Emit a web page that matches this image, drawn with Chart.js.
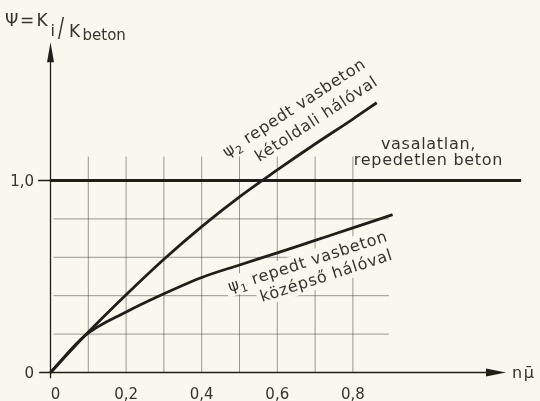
<!DOCTYPE html>
<html>
<head>
<meta charset="utf-8">
<script src="https://cdn.jsdelivr.net/npm/chart.js@4.4.0/dist/chart.umd.min.js"></script>
<style>
  html, body { margin: 0; padding: 0; background: #f9f8ef; }
  canvas { display: block; }
</style>
</head>
<body>
<canvas id="chart" width="540" height="401"></canvas>
<script>
// ψ = K_i / K_beton plotted against nμ̄
const xTicks = [0, 0.2, 0.4, 0.6, 0.8];
const xTickLabels = ["0", "0,2", "0,4", "0,6", "0,8"];
const yTicks = [0, 1.0];
const yTickLabels = ["0", "1,0"];
const gridX = [0.1, 0.2, 0.3, 0.4, 0.5, 0.6, 0.7, 0.8];
const gridY = [0.2, 0.4, 0.6, 0.8];

// unreinforced, uncracked concrete
const plainX = [0, 1.245];
const plainY = [1.0, 1.0];

// ψ2: cracked reinforced concrete, mesh on both faces
const psi2X = [0, 0.09, 0.2, 0.3, 0.4, 0.5, 0.6, 0.7, 0.8, 0.863];
const psi2Y = [0, 0.19, 0.405, 0.59, 0.76, 0.915, 1.055, 1.19, 1.32, 1.405];

// ψ1: cracked reinforced concrete, mesh in the middle
const psi1X = [0, 0.09, 0.2, 0.3, 0.4, 0.5, 0.6, 0.7, 0.8, 0.905];
const psi1Y = [0, 0.19, 0.315, 0.41, 0.495, 0.56, 0.623, 0.688, 0.753, 0.822];

const INK = "#1e1e1c";
const TEXT = "#333331";
const PAPER = "#f9f8ef";
const FONT = '"DejaVu Sans", sans-serif';

const gridTop = 1.125;
const gridRight = 0.895;

const labelPsi2 = {
  angle: -33,
  lines: [
    { at: [0.467, 1.12], sym: "ψ", sub: "2", text: " repedt vasbeton" },
    { at: [0.552, 1.096], text: "kétoldali hálóval" },
  ],
};
const labelPsi1 = {
  angle: -18,
  lines: [
    { at: [0.475, 0.419], sym: "ψ", sub: "1", text: " repedt vasbeton" },
    { at: [0.5595, 0.367], text: "középső hálóval" },
  ],
};

const toPoints = (xs, ys) => xs.map((x, i) => ({ x, y: ys[i] }));

// draws (or just measures) one line of a slanted curve label
function labelLine(ctx, line, draw) {
  ctx.letterSpacing = "0.7px";
  ctx.font = `16px ${FONT}`;
  let w = 0;
  if (line.sym) {
    if (draw) ctx.fillText(line.sym, 0, 0);
    w += ctx.measureText(line.sym).width;
    ctx.font = `11px ${FONT}`;
    if (draw) ctx.fillText(line.sub, w, 4);
    w += ctx.measureText(line.sub).width;
    ctx.font = `16px ${FONT}`;
  }
  if (draw) ctx.fillText(line.text, w, 0);
  w += ctx.measureText(line.text).width;
  return w;
}

function eachLabelLine(chart, fn) {
  const { ctx, scales: { x, y } } = chart;
  [labelPsi1, labelPsi2].forEach((lbl) => {
    lbl.lines.forEach((line) => {
      ctx.save();
      ctx.translate(x.getPixelForValue(line.at[0]), y.getPixelForValue(line.at[1]));
      ctx.rotate((lbl.angle * Math.PI) / 180);
      fn(ctx, line);
      ctx.restore();
    });
  });
}

const drawingPlugin = {
  id: "drawing",
  beforeDraw(chart) {
    const { ctx, width, height } = chart;
    ctx.save();
    ctx.fillStyle = PAPER;
    ctx.fillRect(0, 0, width, height);
    ctx.restore();
  },
  beforeDatasetsDraw(chart) {
    const { ctx, scales: { x, y } } = chart;
    const px = (v) => x.getPixelForValue(v);
    const py = (v) => y.getPixelForValue(v);
    ctx.save();

    // grid
    ctx.strokeStyle = "rgba(70,70,60,0.6)";
    ctx.lineWidth = 0.9;
    ctx.beginPath();
    gridX.forEach((v) => {
      ctx.moveTo(px(v), py(0));
      ctx.lineTo(px(v), py(gridTop));
    });
    gridY.forEach((v) => {
      ctx.moveTo(px(0.008), py(v));
      ctx.lineTo(px(gridRight), py(v));
    });
    ctx.stroke();

    // keep the grid out from under the curve labels
    eachLabelLine(chart, (c, line) => {
      const w = labelLine(c, line, false);
      c.fillStyle = PAPER;
      c.fillRect(-3, -15, w + 6, 20);
    });

    // axes
    ctx.strokeStyle = INK;
    ctx.fillStyle = INK;
    ctx.lineWidth = 1.3;
    ctx.beginPath();
    ctx.moveTo(px(-0.03), py(0));
    ctx.lineTo(px(1.16), py(0));
    ctx.moveTo(px(0), py(-0.03));
    ctx.lineTo(px(0), py(1.67));
    // tick at 1,0
    ctx.moveTo(px(-0.033), py(1));
    ctx.lineTo(px(0), py(1));
    ctx.stroke();

    // arrow heads
    const xTip = px(1.205), yTip = py(1.72);
    ctx.beginPath();
    ctx.moveTo(xTip, py(0));
    ctx.lineTo(xTip - 20, py(0) - 4);
    ctx.lineTo(xTip - 20, py(0) + 4);
    ctx.closePath();
    ctx.fill();
    ctx.beginPath();
    ctx.moveTo(px(0), yTip);
    ctx.lineTo(px(0) - 3.5, yTip + 20);
    ctx.lineTo(px(0) + 3.5, yTip + 20);
    ctx.closePath();
    ctx.fill();
    ctx.restore();
  },
  afterDatasetsDraw(chart) {
    const { ctx, scales: { x, y } } = chart;
    const px = (v) => x.getPixelForValue(v);
    const py = (v) => y.getPixelForValue(v);
    ctx.save();
    ctx.fillStyle = TEXT;
    ctx.textBaseline = "alphabetic";

    // tick labels
    ctx.font = `15px ${FONT}`;
    ctx.textAlign = "center";
    xTicks.forEach((v, i) => {
      ctx.fillText(xTickLabels[i], px(v) + (v === 0 ? 5 : 0), 399);
    });
    ctx.textAlign = "right";
    yTicks.forEach((v, i) => {
      ctx.fillText(yTickLabels[i], 34, py(v) + 5.5);
    });

    // x axis name
    ctx.textAlign = "left";
    ctx.font = `16px ${FONT}`;
    ctx.letterSpacing = "1.5px";
    ctx.fillText("nμ̄", 512, py(0) + 5);
    ctx.letterSpacing = "0px";

    // y axis name: Ψ = K_i / K_beton
    ctx.font = `17px ${FONT}`;
    ctx.fillText("Ψ", 5, 26);
    ctx.fillText("=", 20, 26);
    ctx.fillText("K", 36.5, 26);
    ctx.font = `16px ${FONT}`;
    ctx.fillText("i", 50.5, 36);
    ctx.save();
    ctx.translate(58, 37);
    ctx.scale(1.05, 1.6);
    ctx.font = `17px ${FONT}`;
    ctx.fillText("/", 0, 0);
    ctx.restore();
    ctx.font = `17px ${FONT}`;
    ctx.fillText("K", 69, 37);
    ctx.font = `15px ${FONT}`;
    ctx.fillText("beton", 82.5, 40);

    // reference line label
    ctx.textAlign = "center";
    ctx.font = `16px ${FONT}`;
    ctx.letterSpacing = "0.7px";
    ctx.fillText("vasalatlan,", px(1.0), 149);
    ctx.fillText("repedetlen beton", px(1.0), 165);
    ctx.restore();

    // slanted curve labels
    eachLabelLine(chart, (c, line) => {
      c.fillStyle = TEXT;
      c.textAlign = "left";
      c.textBaseline = "alphabetic";
      labelLine(c, line, true);
    });
  },
};

const lineStyle = {
  showLine: true,
  borderColor: INK,
  borderWidth: 2.8,
  pointRadius: 0,
  fill: false,
  clip: false,
};

new Chart(document.getElementById("chart"), {
  type: "scatter",
  data: {
    datasets: [
      { ...lineStyle, label: "vasalatlan, repedetlen beton", data: toPoints(plainX, plainY) },
      { ...lineStyle, label: "ψ2", data: toPoints(psi2X, psi2Y), cubicInterpolationMode: "monotone" },
      { ...lineStyle, label: "ψ1", data: toPoints(psi1X, psi1Y), cubicInterpolationMode: "monotone" },
    ],
  },
  options: {
    responsive: false,
    animation: false,
    devicePixelRatio: 1,
    layout: { padding: { left: 50.5, right: 17, top: 36.5, bottom: 28.5 } },
    scales: {
      x: { type: "linear", min: 0, max: 1.25, display: false },
      y: { type: "linear", min: 0, max: 1.75, display: false },
    },
    plugins: {
      legend: { display: false },
      tooltip: { enabled: false },
    },
  },
  plugins: [drawingPlugin],
});
</script>
</body>
</html>
